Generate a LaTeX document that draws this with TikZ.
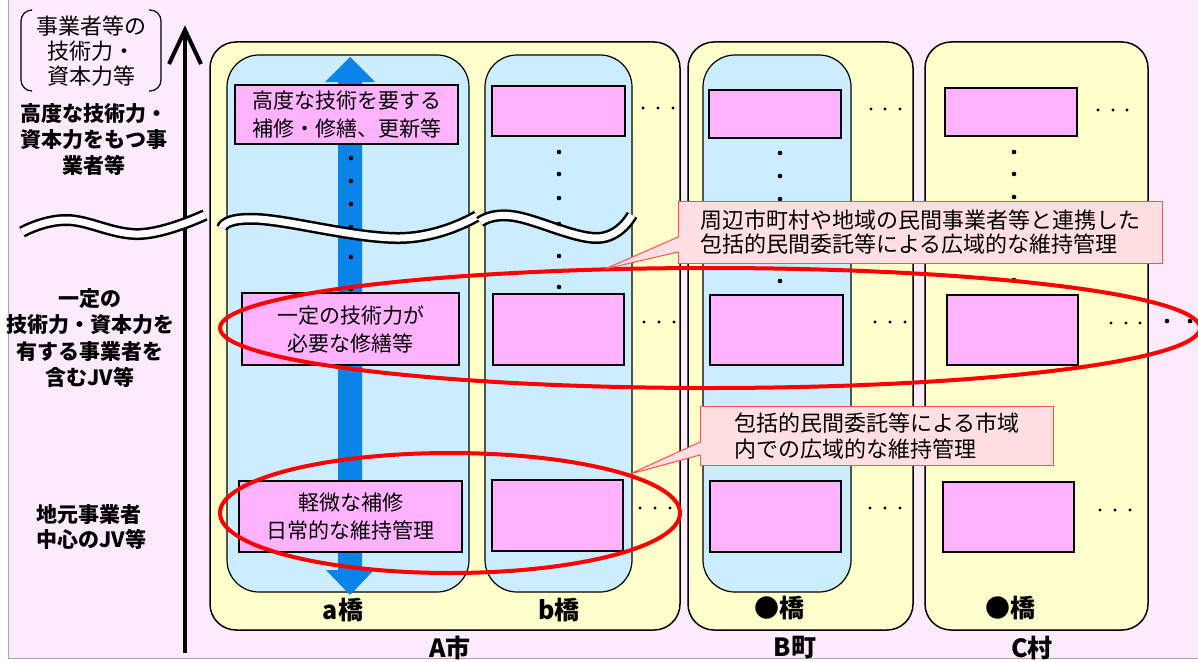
\documentclass[tikz,border=0pt]{standalone}
\usepackage{fontspec}
\usetikzlibrary{calc}
\newfontfamily\jp{Noto Sans CJK JP}
\definecolor{bgpink}{HTML}{FCEBFC}
\definecolor{yellowfill}{HTML}{FFFFCC}
\definecolor{bluefill}{HTML}{CCECFF}
\definecolor{pinkbox}{HTML}{FFB3FF}
\definecolor{arrowblue}{HTML}{0A84E8}
\definecolor{calloutfill}{HTML}{FFDFE2}
\definecolor{calloutline}{HTML}{FF5050}
\tikzset{
  area/.style={draw=black, line width=1.5pt, fill=yellowfill, rounded corners=26pt, inner sep=0pt},
  bridge/.style={draw=black, line width=1.2pt, fill=bluefill, rounded corners=32pt, inner sep=0pt},
  work/.style={draw=black, line width=2pt, fill=pinkbox, inner sep=0pt, align=center,
    font=\jp\fontsize{21}{28}\selectfont},
  callout/.style={draw=calloutline, line width=1pt, fill=calloutfill, inner xsep=22pt, inner ysep=0pt,
    align=left, anchor=north west, font=\jp\fontsize{22}{24}\selectfont},
  sidelabel/.style={align=center, font=\jp\bfseries\fontsize{21}{26}\selectfont},
  bottomlabel/.style={font=\jp\bfseries\fontsize{25}{28}\selectfont},
  ring/.style={draw=red, line width=4pt},
}
\newcommand\vdotcol[2]{\foreach \yy in {#2} {\fill (#1,\yy) circle (2.3pt);}}
\newcommand\hdotrow[2]{\foreach \xx in {#1} {\fill (\xx,#2) circle (1.6pt);}}
\newcommand\wavebreak[1]{%
  \draw[line width=12pt] plot[smooth, tension=0.7] coordinates {#1};
  \draw[white, line width=7pt] plot[smooth, tension=0.7] coordinates {#1};}
\begin{document}
\begin{tikzpicture}[x=1pt,y=-1pt]
\useasboundingbox (0,0) rectangle (1198,661);
\fill[white] (0,0) rectangle (1198,661);
\fill[bgpink] (8,0) rectangle (1198,658);
\draw[gray!70, line width=1pt] (8,0) -- (8,658) -- (1198,658);

% axis
\draw[line width=4pt] (185,653) -- (185,32);
\draw[line width=4pt, line join=miter] (169,64) -- (185,30) -- (201,64);

% bracket label
\draw[line width=1.2pt, rounded corners=11pt] (31,10) -- (21,10) -- (21,91) -- (31,91);
\draw[line width=1.2pt, rounded corners=11pt] (149,10) -- (161,10) -- (161,91) -- (149,91);
\node[align=center, font=\jp\fontsize{22}{25}\selectfont] (scale) at (91,51) {事業者等の\\技術力・\\資本力等};

% side labels
\node[sidelabel] (lvhigh) at (94,140) {高度な技術力・\\資本力をもつ事\\業者等};
\node[sidelabel, font=\jp\bfseries\fontsize{21}{26.5}\selectfont] (lvmid) at (90,338) {一定の\\技術力・資本力を\\有する事業者を\\含むJV等};
\node[sidelabel, align=left, anchor=west, font=\jp\bfseries\fontsize{21}{25}\selectfont] (lvlow) at (33,527) {地元事業者\\中心のJV等};

% areas
\node[area, minimum width=470pt, minimum height=588pt] (A) at (445,336) {};
\node[area, minimum width=225pt, minimum height=588pt] (B) at (800.5,336) {};
\node[area, minimum width=223pt, minimum height=588pt] (C) at (1036.5,336) {};

% bridges
\node[bridge, minimum width=242pt, minimum height=537pt] (ba) at (348,323.5) {};
\node[bridge, minimum width=147pt, minimum height=537pt] (bb) at (558.5,323.5) {};
\node[bridge, minimum width=148pt, minimum height=537pt] (bB) at (777,323.5) {};

% blue arrow
\fill[arrowblue] (338,82) -- (325,82) -- (350,57) -- (375,82) -- (362,82) -- (362,570)
  -- (374,570) -- (350,595) -- (326,570) -- (338,570) -- cycle;

% wave breaks
\wavebreak{(22,232) (67,220) (140,234) (205,215)}
\wavebreak{(222,228) (258,219) (400,238) (477,216)}
\wavebreak{(480,222) (513,216) (597,238) (632,215)}

% work boxes
\node[work, minimum width=223pt, minimum height=59pt] (a1) at (346.5,114.5) {高度な技術を要する\\補修・修繕、更新等};
\node[work, minimum width=217pt, minimum height=72pt] (a2) at (350.5,329) {一定の技術力が\\必要な修繕等};
\node[work, minimum width=223pt, minimum height=71pt] (a3) at (350.5,516.5) {軽微な補修\\日常的な維持管理};
\node[work, minimum width=133pt, minimum height=50pt] (b1) at (558.5,111) {};
\node[work, minimum width=131pt, minimum height=71pt] (b2) at (558.5,329.5) {};
\node[work, minimum width=131pt, minimum height=71pt] (b3) at (557.5,515.5) {};
\node[work, minimum width=132pt, minimum height=48pt] (B1) at (775,114) {};
\node[work, minimum width=133pt, minimum height=70pt] (B2) at (776.5,330) {};
\node[work, minimum width=131pt, minimum height=71pt] (B3) at (775.5,516.5) {};
\node[work, minimum width=132pt, minimum height=48pt] (C1) at (1011,112) {};
\node[work, minimum width=131pt, minimum height=70pt] (C2) at (1012.5,330) {};
\node[work, minimum width=131pt, minimum height=70pt] (C3) at (1008.5,517) {};

% vertical dots
\vdotcol{351}{158,181,204,227,257,289}
\vdotcol{559}{152,174,198,224,256,287}
\vdotcol{780}{153,176,199,281}
\vdotcol{1014}{152,174,197,280}

% horizontal dots
\hdotrow{643,658,673}{108}
\hdotrow{871,885,900}{109}
\hdotrow{1098,1113,1127}{110}
\hdotrow{644,659,674}{322}
\hdotrow{875,890,905}{322}
\hdotrow{1111,1126,1140}{323}
\foreach \xx in {1167,1190} {\fill (\xx,321) circle (2.3pt);}
\hdotrow{640,655,670}{508}
\hdotrow{870,885,900}{508}
\hdotrow{1100,1115,1130}{510}

% bottom labels
\node[bottomlabel] (la) at (343,610) {a橋};
\node[bottomlabel] (lb) at (559,610) {b橋};
\node[bottomlabel] (lB) at (779,608) {●橋};
\node[bottomlabel] (lC) at (1010,608) {●橋};
\node[bottomlabel] (nA) at (450,648) {A市};
\node[bottomlabel] (nB) at (795,648) {B町};
\node[bottomlabel] (nC) at (1032,648) {C村};

% red rings
\draw[ring] (710,328) ellipse [x radius=490pt, y radius=60pt];
\draw[ring] (450,513) ellipse [x radius=230pt, y radius=60pt];
\coordinate (tip1) at (605,269);
\coordinate (tip2) at (630,474);

% callouts
\node[callout, minimum width=482pt, minimum height=62pt] (c1) at (678,201)
  {周辺市町村や地域の民間事業者等と連携した\\包括的民間委託等による広域的な維持管理};
\fill[calloutfill] ($(c1.north west)+(2,36.5)$) -- ($(c1.north west)+(0,36.5)$) -- (tip1)
  -- ($(c1.north west)+(0,50.5)$) -- ($(c1.north west)+(2,50.5)$) -- cycle;
\draw[calloutline, line width=1pt] ($(c1.north west)+(0,36)$) -- (tip1) -- ($(c1.north west)+(0,51)$);

\node[callout, minimum width=353pt, minimum height=59pt, inner xsep=21pt,
  font=\jp\fontsize{22}{26}\selectfont] (c2) at (700,406)
  {包括的民間委託等による市域\\内での広域的な維持管理};
\fill[calloutfill] ($(c2.north west)+(2,36.5)$) -- ($(c2.north west)+(0,36.5)$) -- (tip2)
  -- ($(c2.north west)+(0,48.5)$) -- ($(c2.north west)+(2,48.5)$) -- cycle;
\draw[calloutline, line width=1pt] ($(c2.north west)+(0,36)$) -- (tip2) -- ($(c2.north west)+(0,49)$);
\end{tikzpicture}
\end{document}
